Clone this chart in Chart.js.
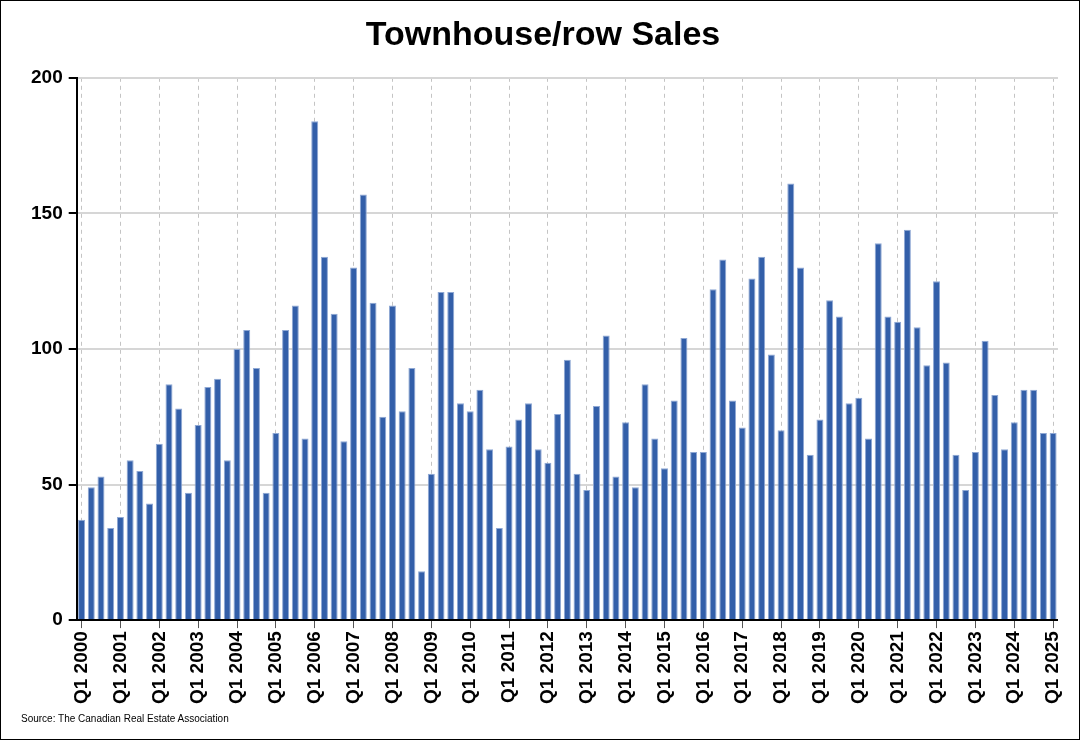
<!DOCTYPE html>
<html>
<head>
<meta charset="utf-8">
<script src="https://cdn.jsdelivr.net/npm/chart.js@4"></script>
<style>
  html, body { margin: 0; padding: 0; background: #fff; }
  #wrap { position: relative; width: 1078px; height: 738px; border: 1px solid #000; }
  #src { position: absolute; left: 20px; top: 712px; font: 10px "Liberation Sans", Arial, sans-serif; color: #000; }
</style>
</head>
<body>
<div id="wrap">
  <canvas id="sales" width="1078" height="738"></canvas>
  <div id="src">Source: The Canadian Real Estate Association</div>
</div>
<script>
var startYear = 2000;
var endYear = 2025;

// quarterly sales, Q1 2000 .. Q1 2025
var sales = [
    37, 49, 53, 34,
    38, 59, 55, 43,
    65, 87, 78, 47,
    72, 86, 89, 59,
    100, 107, 93, 47,
    69, 107, 116, 67,
    184, 134, 113, 66,
    130, 157, 117, 75,
    116, 77, 93, 18,
    54, 121, 121, 80,
    77, 85, 63, 34,
    64, 74, 80, 63,
    58, 76, 96, 54,
    48, 79, 105, 53,
    73, 49, 87, 67,
    56, 81, 104, 62,
    62, 122, 133, 81,
    71, 126, 134, 98,
    70, 161, 130, 61,
    74, 118, 112, 80,
    82, 67, 139, 112,
    110, 144, 108, 94,
    125, 95, 61, 48,
    62, 103, 83, 63,
    73, 85, 85, 69,
    69
];

var labels = [];
for (var y = startYear; y <= endYear; y++) {
    for (var q = 1; q <= 4; q++) {
        if (labels.length < sales.length) labels.push('Q' + q + ' ' + y);
    }
}

function isQ1(ctx) {
    return ctx.index % 4 === 0;
}

const config = {
    type: 'bar',
    data: {
        labels: labels,
        datasets: [{
            label: 'Townhouse/row Sales',
            backgroundColor: '#335fa9',
            borderColor: '#8fa8d4',
            borderWidth: {left: 1, right: 1, top: 1, bottom: 0},
            barPercentage: 0.72,
            categoryPercentage: 1,
            data: sales
        }]
    },
    options: {
        responsive: false,
        animation: false,
        layout: { padding: { left: 24, right: 18, top: 8, bottom: 32 } },
        plugins: {
            legend: { display: false },
            tooltip: { enabled: false },
            title: {
                display: true,
                text: 'Townhouse/row Sales',
                color: '#000',
                font: { family: '"Liberation Sans", Arial, sans-serif', size: 34, weight: 'bold' },
                padding: { top: 6, bottom: 22 }
            }
        },
        scales: {
            x: {
                offset: true,
                grid: {
                    offset: false,
                    color: function (ctx) { return isQ1(ctx) ? '#c4c4c4' : 'rgba(0,0,0,0)'; },
                    tickColor: function (ctx) { return isQ1(ctx) ? '#555' : 'rgba(0,0,0,0)'; },
                    tickLength: 8,
                    tickBorderDash: [],
                    lineWidth: 1
                },
                border: { display: true, color: '#000', width: 2, dash: [4, 4] },
                ticks: {
                    autoSkip: false,
                    maxRotation: 90,
                    minRotation: 90,
                    color: '#000',
                    font: { family: '"Liberation Sans", Arial, sans-serif', size: 19, weight: 'bold' },
                    callback: function (val, i) { return i % 4 === 0 ? this.getLabelForValue(val) : ''; }
                }
            },
            y: {
                min: 0,
                max: 200,
                grid: { color: '#d6d6d6', lineWidth: 2, tickColor: '#000', tickLength: 8 },
                border: { display: true, color: '#000', width: 2 },
                ticks: {
                    stepSize: 50,
                    color: '#000',
                    padding: 6,
                    font: { family: '"Liberation Sans", Arial, sans-serif', size: 19, weight: 'bold' }
                }
            }
        }
    }
};
const graphic = new Chart(document.getElementById('sales'), config);
</script>
</body>
</html>
